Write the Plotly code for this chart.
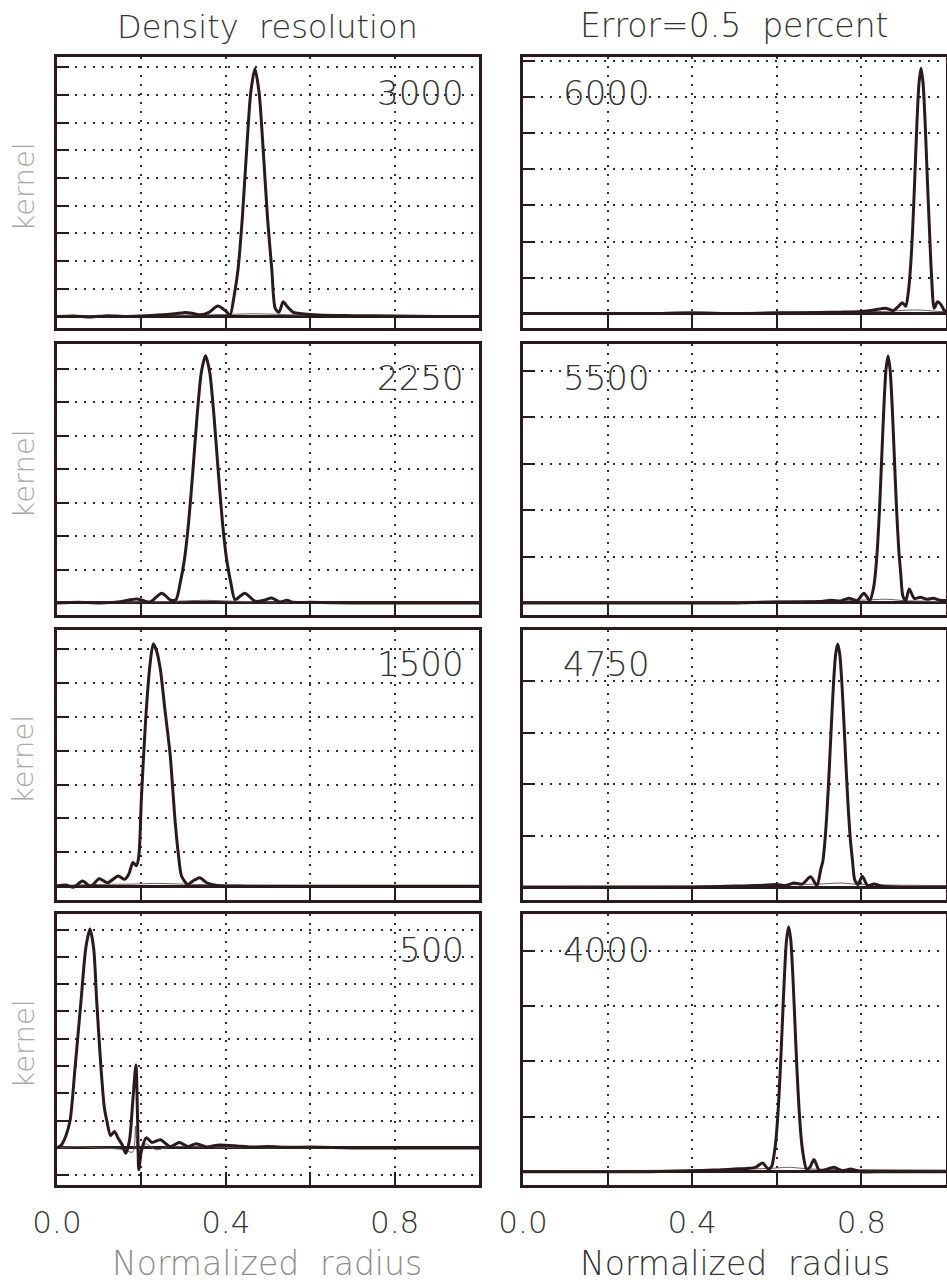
import plotly.graph_objects as go

W, H = 947, 1285

# ---------------- data ----------------
# Left column: "Density resolution"
x_3000 = [0.0, 0.04, 0.08, 0.12, 0.16, 0.2, 0.24, 0.28, 0.3, 0.32, 0.34, 0.36, 0.381, 0.40, 0.41, 0.419, 0.429, 0.439, 0.449, 0.459, 0.469, 0.479, 0.489, 0.499, 0.509, 0.517, 0.526, 0.536, 0.546, 0.56, 0.58, 0.62, 0.7, 0.8, 0.9, 1.0]
y_3000 = [0.0, 0.02, -0.02, 0.03, 0.0, 0.02, 0.05, 0.1, 0.14, 0.12, 0.06, 0.15, 0.38, 0.2, 0.05, 0.68, 1.7, 3.53, 5.92, 8.07, 8.95, 8.07, 5.92, 3.53, 1.7, 0.3, 0.15, 0.53, 0.35, 0.15, 0.1, 0.05, 0.03, 0.02, 0.0, 0.0]

x_2250 = [0.0, 0.05, 0.1, 0.15, 0.19, 0.22, 0.248, 0.27, 0.282, 0.292, 0.302, 0.312, 0.322, 0.332, 0.342, 0.352, 0.362, 0.372, 0.382, 0.392, 0.402, 0.412, 0.422, 0.445, 0.47, 0.49, 0.509, 0.528, 0.545, 0.56, 0.6, 0.7, 0.8, 0.9, 1.0]
y_2250 = [0.0, 0.02, 0.0, 0.04, 0.12, 0.03, 0.29, 0.08, 0.1, 0.6, 1.3, 2.43, 3.95, 5.6, 6.9, 7.4, 6.9, 5.6, 3.95, 2.43, 1.3, 0.6, 0.1, 0.29, 0.05, 0.08, 0.15, 0.03, 0.08, 0.02, 0.02, 0.0, 0.0, 0.0, 0.0]

x_1500 = [0.0, 0.02, 0.04, 0.06, 0.08, 0.10, 0.12, 0.145, 0.16, 0.17, 0.18, 0.188, 0.194, 0.2, 0.21, 0.22, 0.228, 0.236, 0.245, 0.255, 0.268, 0.28, 0.288, 0.295, 0.31, 0.322, 0.338, 0.355, 0.38, 0.45, 0.55, 0.7, 0.85, 1.0]
y_1500 = [0.0, 0.03, -0.03, 0.15, 0.0, 0.22, 0.1, 0.3, 0.2, 0.35, 0.7, 0.6, 0.9, 2.6, 4.9, 6.5, 7.16, 6.95, 6.4, 5.3, 3.9, 1.9, 0.9, 0.3, 0.05, 0.15, 0.25, 0.1, 0.02, 0.0, 0.0, 0.0, 0.0, 0.0]

x_500 = [0.0, 0.01, 0.02, 0.031, 0.043, 0.057, 0.068, 0.078, 0.087, 0.094, 0.104, 0.112, 0.118, 0.127, 0.136, 0.145, 0.155, 0.163, 0.172, 0.18, 0.187, 0.191, 0.194, 0.2, 0.212, 0.225, 0.245, 0.268, 0.29, 0.31, 0.33, 0.355, 0.38, 0.42, 0.46, 0.5, 0.55, 0.6, 0.7, 0.8, 0.9, 1.0]
y_500 = [0.0, 0.1, 0.4, 1.0, 2.98, 5.4, 7.3, 8.02, 7.3, 5.4, 2.98, 1.5, 1.0, 0.45, 0.6, 0.35, 0.1, -0.2, 0.3, 1.8, 3.04, 1.0, -0.8, -0.1, 0.37, 0.2, 0.3, 0.05, 0.2, 0.05, 0.15, 0.03, 0.1, 0.08, 0.03, 0.05, 0.02, 0.03, 0.0, 0.0, 0.0, 0.0]

# Right column: "Error=0.5 percent"
x_6000 = [0.0, 0.1, 0.2, 0.3, 0.4, 0.5, 0.6, 0.7, 0.75, 0.8, 0.83, 0.858, 0.875, 0.886, 0.897, 0.905, 0.911, 0.916, 0.921, 0.926, 0.931, 0.936, 0.941, 0.946, 0.951, 0.956, 0.961, 0.966, 0.972, 0.98, 0.988, 0.995, 1.0]
y_6000 = [0.0, 0.0, 0.0, 0.0, 0.02, 0.0, 0.02, 0.03, 0.04, 0.06, 0.1, 0.15, 0.08, 0.18, 0.3, 0.2, 0.6, 1.26, 2.3, 3.7, 5.2, 6.37, 6.81, 6.37, 5.2, 3.7, 2.3, 1.0, 0.15, 0.33, 0.25, 0.1, 0.05]

x_5500 = [0.0, 0.1, 0.2, 0.3, 0.4, 0.5, 0.6, 0.65, 0.7, 0.73, 0.75, 0.77, 0.79, 0.806, 0.82, 0.829, 0.833, 0.838, 0.843, 0.848, 0.853, 0.858, 0.863, 0.868, 0.873, 0.878, 0.883, 0.888, 0.893, 0.898, 0.905, 0.913, 0.925, 0.94, 0.955, 0.97, 0.985, 1.0]
y_5500 = [0.0, 0.0, 0.0, 0.0, 0.0, 0.0, 0.02, 0.02, 0.03, 0.06, 0.04, 0.1, 0.05, 0.21, 0.05, 0.34, 0.63, 1.2, 2.05, 3.12, 4.19, 5.01, 5.32, 5.01, 4.19, 3.12, 2.05, 1.2, 0.63, 0.15, 0.05, 0.3, 0.1, 0.12, 0.08, 0.1, 0.06, 0.05]

x_4750 = [0.0, 0.1, 0.2, 0.3, 0.4, 0.5, 0.55, 0.6, 0.62, 0.64, 0.66, 0.68, 0.695, 0.704, 0.709, 0.714, 0.719, 0.724, 0.729, 0.734, 0.739, 0.744, 0.749, 0.754, 0.759, 0.764, 0.769, 0.774, 0.779, 0.784, 0.792, 0.802, 0.815, 0.83, 0.85, 0.9, 0.95, 1.0]
y_4750 = [0.0, 0.0, 0.0, 0.0, 0.0, 0.02, 0.03, 0.05, 0.03, 0.08, 0.06, 0.2, 0.03, 0.35, 0.51, 0.92, 1.52, 2.29, 3.15, 3.95, 4.52, 4.73, 4.52, 3.95, 3.15, 2.29, 1.52, 0.92, 0.51, 0.15, 0.05, 0.21, 0.03, 0.06, 0.02, 0.0, 0.0, 0.0]

x_4000 = [0.0, 0.1, 0.2, 0.3, 0.4, 0.45, 0.5, 0.53, 0.55, 0.566, 0.58, 0.588, 0.593, 0.598, 0.603, 0.608, 0.613, 0.618, 0.623, 0.628, 0.633, 0.638, 0.643, 0.648, 0.653, 0.658, 0.663, 0.67, 0.678, 0.688, 0.7, 0.712, 0.735, 0.755, 0.775, 0.8, 0.85, 0.9, 1.0]
y_4000 = [0.0, 0.0, 0.0, 0.0, 0.02, 0.03, 0.05, 0.06, 0.08, 0.16, 0.05, 0.1, 0.28, 0.58, 1.09, 1.8, 2.67, 3.54, 4.2, 4.44, 4.2, 3.54, 2.67, 1.8, 1.09, 0.58, 0.28, 0.05, 0.08, 0.22, 0.03, 0.03, 0.08, 0.02, 0.05, 0.0, 0.0, 0.0, 0.0]

# thin companion curves (near zero)
xt_3000 = [0.0, 0.3, 0.42, 0.47, 0.52, 0.6, 1.0]
yt_3000 = [0.02, 0.05, 0.08, 0.1, 0.08, 0.04, 0.02]
xt_2250 = [0.0, 0.25, 0.3, 0.35, 0.4, 0.5, 1.0]
yt_2250 = [0.02, 0.04, 0.06, 0.08, 0.06, 0.03, 0.02]
xt_1500 = [0.0, 0.1, 0.18, 0.23, 0.3, 0.4, 1.0]
yt_1500 = [0.02, 0.05, 0.06, 0.08, 0.06, 0.03, 0.02]
xt_500 = [0.0, 0.05, 0.1, 0.15, 0.18, 0.186, 0.19, 0.196, 0.21, 0.235, 0.27, 0.35, 0.5, 1.0]
yt_500 = [0.0, 0.05, 0.0, -0.05, -0.15, 0.8, -0.1, -0.35, 0.15, -0.07, 0.05, 0.03, 0.0, 0.0]
xt_6000 = [0.0, 0.5, 0.85, 0.92, 0.95, 0.98, 1.0]
yt_6000 = [0.02, 0.03, 0.06, 0.1, 0.09, 0.06, 0.05]
xt_5500 = [0.0, 0.5, 0.8, 0.86, 0.9, 1.0]
yt_5500 = [0.02, 0.03, 0.06, 0.08, 0.05, 0.03]
xt_4750 = [0.0, 0.5, 0.7, 0.75, 0.8, 1.0]
yt_4750 = [0.02, 0.03, 0.06, 0.08, 0.05, 0.03]
xt_4000 = [0.0, 0.4, 0.58, 0.63, 0.68, 1.0]
yt_4000 = [0.02, 0.03, 0.06, 0.08, 0.05, 0.03]

labels = ["3000", "2250", "1500", "500", "6000", "5500", "4750", "4000"]
x_tick_vals = [0.0, 0.2, 0.4, 0.6, 0.8, 1.0]
x_tick_text = ["0.0", "", "0.4", "", "0.8", ""]

# ---------------- layout config ----------------
col_px = [(57, 479), (523, 946)]
row_px = [(57, 328), (344, 615), (630, 900), (914, 1185)]
yranges = [[-0.415, 9.37], [-0.36, 7.75], [-0.41, 7.57], [-1.36, 8.57],
           [-0.40, 7.12], [-0.26, 5.58], [-0.25, 5.0], [-0.24, 4.67]]
ygrids = [list(range(1, 10)), list(range(1, 8)), list(range(1, 8)), [-1] + list(range(1, 9)),
          list(range(1, 8)), list(range(1, 6)), list(range(1, 6)), list(range(1, 5))]

curves = [(x_3000, y_3000, xt_3000, yt_3000), (x_2250, y_2250, xt_2250, yt_2250),
          (x_1500, y_1500, xt_1500, yt_1500), (x_500, y_500, xt_500, yt_500),
          (x_6000, y_6000, xt_6000, yt_6000), (x_5500, y_5500, xt_5500, yt_5500),
          (x_4750, y_4750, xt_4750, yt_4750), (x_4000, y_4000, xt_4000, yt_4000)]

INK = "#2b1a1d"
FONT = "DejaVu Sans"

fig = go.Figure()
annotations = []
for i in range(8):
    col, row = divmod(i, 4)
    k = i + 1
    xa, ya = f"x{k}", f"y{k}"
    xs, ys, xts, yts = curves[i]
    fig.add_trace(go.Scatter(x=xts, y=yts, mode="lines", xaxis=xa, yaxis=ya,
                             line=dict(color="#6a5a5c", width=1, shape="spline", smoothing=0.6),
                             showlegend=False, hoverinfo="skip"))
    fig.add_trace(go.Scatter(x=xs, y=ys, mode="lines", xaxis=xa, yaxis=ya,
                             line=dict(color=INK, width=3, shape="spline", smoothing=0.7),
                             showlegend=False))
    x0, x1 = col_px[col]
    t, b = row_px[row]
    bottom = row == 3
    fig.layout[f"xaxis{k}"] = dict(
        domain=[x0 / W, x1 / W], anchor=ya, range=[0, 1.0], automargin=False,
        tickvals=x_tick_vals, ticktext=x_tick_text, showticklabels=bottom,
        ticks="inside", ticklen=13, tickwidth=2, tickcolor=INK,
        showline=True, mirror=True, linecolor=INK, linewidth=3,
        showgrid=True, gridcolor="#2e2e2e", gridwidth=1.8, griddash="2px,7px",
        zeroline=False, ticklabelstandoff=8,
        tickfont=dict(family=FONT, size=31, color="#333333", weight=300),
        fixedrange=True)
    fig.layout[f"yaxis{k}"] = dict(
        domain=[1 - b / H, 1 - t / H], anchor=xa, range=yranges[i], automargin=False,
        tickvals=ygrids[i], showticklabels=False,
        ticks="inside", ticklen=12, tickwidth=2, tickcolor=INK,
        showline=True, mirror=True, linecolor=INK, linewidth=3,
        showgrid=True, gridcolor="#2e2e2e", gridwidth=1.8, griddash="2px,7px",
        zeroline=True, zerolinecolor=INK, zerolinewidth=3,
        fixedrange=True)
    # panel label
    ly = [93, 378, 664, 950][row]
    if col == 0:
        annotations.append(dict(text=labels[i], x=466 / W, y=1 - ly / H, xref="paper", yref="paper",
                                xanchor="right", yanchor="middle", showarrow=False,
                                font=dict(family=FONT, size=34, color="#333333", weight=300)))
        annotations.append(dict(text="kernel", x=23 / W, y=1 - ((t + b) / 2 - 5) / H, xref="paper", yref="paper",
                                xanchor="center", yanchor="middle", showarrow=False, textangle=-90,
                                font=dict(family=FONT, size=29, color="#a8a8a8", weight=300)))
    else:
        annotations.append(dict(text=labels[i], x=561 / W, y=1 - ly / H, xref="paper", yref="paper",
                                xanchor="left", yanchor="middle", showarrow=False,
                                font=dict(family=FONT, size=34, color="#333333", weight=300)))

annotations += [
    dict(text="Density  resolution", x=267 / W, y=1 - 27 / H, xref="paper", yref="paper",
         xanchor="center", yanchor="middle", showarrow=False,
         font=dict(family=FONT, size=32, color="#333333", weight=300)),
    dict(text="Error=0.5  percent", x=734 / W, y=1 - 25 / H, xref="paper", yref="paper",
         xanchor="center", yanchor="middle", showarrow=False,
         font=dict(family=FONT, size=33, color="#333333", weight=300)),
    dict(text="Normalized  radius", x=267 / W, y=1 - 1263 / H, xref="paper", yref="paper",
         xanchor="center", yanchor="middle", showarrow=False,
         font=dict(family=FONT, size=33, color="#8c8c8c", weight=300)),
    dict(text="Normalized  radius", x=735 / W, y=1 - 1263 / H, xref="paper", yref="paper",
         xanchor="center", yanchor="middle", showarrow=False,
         font=dict(family=FONT, size=33, color="#333333", weight=300)),
]

fig.update_layout(width=W, height=H, margin=dict(l=0, r=0, t=0, b=0, autoexpand=False),
                  paper_bgcolor="white", plot_bgcolor="white",
                  annotations=annotations, showlegend=False)

fig.write_html("out.html")
